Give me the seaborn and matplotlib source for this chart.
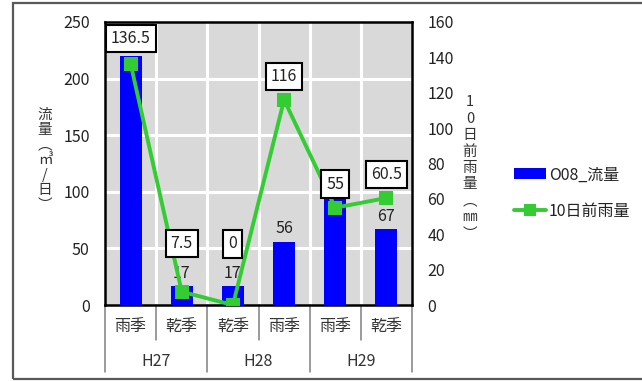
import matplotlib
matplotlib.use("Agg")
import matplotlib.pyplot as plt
from matplotlib.patches import Rectangle, Patch
from matplotlib.lines import Line2D
import seaborn as sns
import pandas as pd

# data
years = ["H27", "H27", "H28", "H28", "H29", "H29"]
seasons = ["雨季", "乾季", "乾季", "雨季", "雨季", "乾季"]
flow = [220, 17, 17, 56, 100, 67]
rain10 = [136.5, 7.5, 0, 116, 55, 60.5]
group_names = ["H27", "H28", "H29"]
flow_ticks = [0, 50, 100, 150, 200, 250]
rain_ticks = [0, 20, 40, 60, 80, 100, 120, 140, 160]

# flow labels that sit under a rainfall box are left out
show_flow_label = [False, True, True, True, False, True]
# vertical offsets (points) of the rainfall value boxes
box_offsets = [18, 35, 44, 17, 17, 17]

sns.set_style("white")
plt.rcParams["font.family"] = ["Noto Sans CJK JP", "DejaVu Sans"]
FS = 11.5

df = pd.DataFrame({"key": [y + s for y, s in zip(years, seasons)],
                   "flow": flow, "rain": rain10})

W, H = 642, 381
fig = plt.figure(figsize=(W / 100, H / 100), dpi=100)
L, R, T, B = 105, 412, 22, 305
ax = fig.add_axes([L / W, 1 - B / H, (R - L) / W, (B - T) / H])
ax.set_facecolor("#D9D9D9")

sns.barplot(data=df, x="key", y="flow", color="#0000FF", saturation=1,
            width=0.43, ax=ax, zorder=3, linewidth=0)
for c in ax.containers:
    ax.bar_label(c, labels=[f"{v:g}" if s else "" for v, s in zip(flow, show_flow_label)],
                 padding=3, fontsize=FS, color="#222222")

ax.set_xlim(-0.5, 5.5)
ax.set_ylim(0, 250)
ax.set_yticks(flow_ticks)
ax.set_xticks([])
ax.set_xlabel("")
ax.set_ylabel("")
for v in flow_ticks[1:-1]:
    ax.axhline(v, color="white", lw=2.2, zorder=1)
for i in range(5):
    ax.axvline(i + 0.5, color="white", lw=2.2, zorder=1)
ax.tick_params(axis="y", length=0, pad=11, labelsize=FS, labelcolor="#222222")
for s in ax.spines.values():
    s.set_color("black")
    s.set_linewidth(1.8)

ax2 = ax.twinx()
sns.lineplot(x=list(range(6)), y=rain10, ax=ax2, color="#33CC33", lw=2.8,
             marker="s", markersize=9.5, markeredgewidth=0, zorder=4)
ax2.set_ylim(0, 160)
ax2.set_xlim(-0.5, 5.5)
ax2.set_yticks(rain_ticks)
ax2.tick_params(axis="y", length=0, pad=11, labelsize=FS, labelcolor="#222222")
for s in ax2.spines.values():
    s.set_visible(False)
for i, v in enumerate(rain10):
    ax2.annotate(f"{v:g}", (i, v), xytext=(0, box_offsets[i]),
                 textcoords="offset points", ha="center", va="center",
                 fontsize=FS, color="#222222", zorder=6,
                 bbox=dict(boxstyle="square,pad=0.32", fc="white",
                           ec="black", lw=1.5))

# two-level category axis
for i, s in enumerate(seasons):
    ax.text(i, -22 / (B - T), s, transform=ax.get_xaxis_transform(),
            ha="center", va="center", fontsize=FS, color="#333333")
for g, name in enumerate(group_names):
    ax.text(2 * g + 0.5, -57 / (B - T), name, transform=ax.get_xaxis_transform(),
            ha="center", va="center", fontsize=FS, color="#333333")
for i in range(7):
    depth = 67 if i % 2 == 0 else 35
    ax.plot([i - 0.5, i - 0.5], [0, -depth / (B - T)], transform=ax.get_xaxis_transform(),
            color="#808080", lw=1.1, clip_on=False)

# stacked axis titles
fig.text(45 / W, 1 - 160 / H, "流\n量\n︵\n㎥\n/\n日\n︶", ha="center", va="center",
         fontsize=10.5, linespacing=1.1, color="#333333")
fig.text(470 / W, 1 - 168 / H, "1\n0\n日\n前\n雨\n量\n︵\n㎜\n︶", ha="center", va="center",
         fontsize=10.5, linespacing=1.22, color="#333333")

# legend
handles = [Patch(color="#0000FF", lw=0),
           Line2D([], [], color="#33CC33", lw=2.8, marker="s", markersize=8.5,
                  markeredgewidth=0)]
fig.legend(handles, ["O08_流量", "10日前雨量"], loc="center left",
           bbox_to_anchor=(500 / W, 1 - 193 / H), frameon=False, fontsize=FS,
           handlelength=2.0, handletextpad=0.15, labelspacing=1.2,
           labelcolor="#222222")

# outer chart frame
fig.patches.append(Rectangle((13 / W, 2 / H), 1.0, (376) / H, transform=fig.transFigure,
                             fill=False, ec="#595959", lw=1.6))

fig.savefig("out.png", dpi=100)
